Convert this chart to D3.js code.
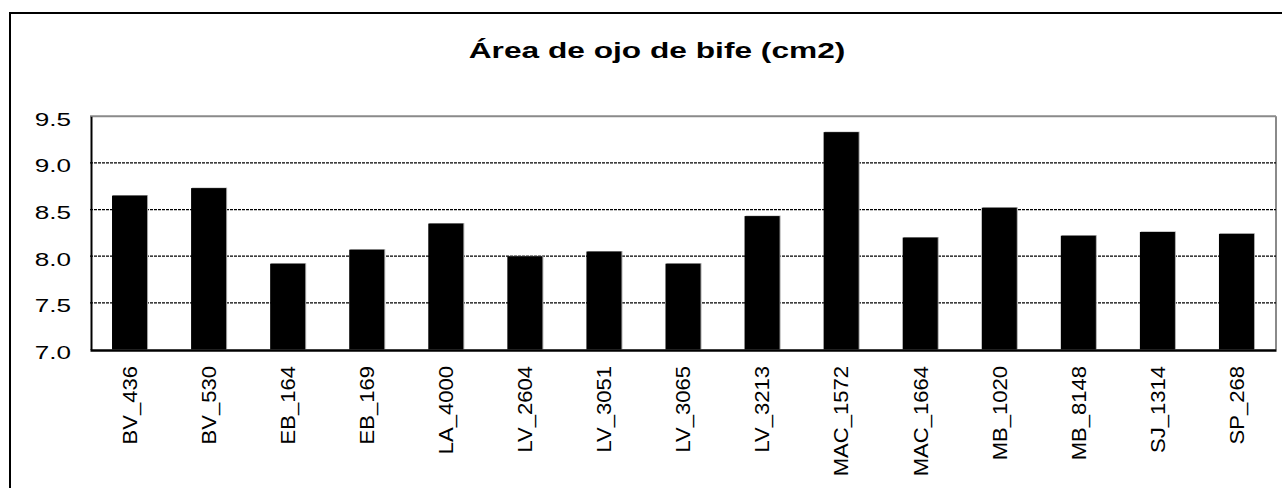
<!DOCTYPE html>
<html>
<head>
<meta charset="utf-8">
<script src="https://cdn.jsdelivr.net/npm/d3@7/dist/d3.min.js"></script>
<style>
  html, body { margin: 0; padding: 0; background: #fff; }
  svg { display: block; font-family: "Liberation Sans", Arial, sans-serif; }
</style>
</head>
<body>
<svg id="chart" width="1282" height="488"></svg>
<script>
const titleText = "Área de ojo de bife (cm2)";
const categories = ["BV_436","BV_530","EB_164","EB_169","LA_4000","LV_2604","LV_3051","LV_3065","LV_3213","MAC_1572","MAC_1664","MB_1020","MB_8148","SJ_1314","SP_268"];
const values = [8.65, 8.73, 7.92, 8.07, 8.35, 8.00, 8.05, 7.92, 8.43, 9.33, 8.20, 8.52, 8.22, 8.26, 8.24];
const yTicks = [7.0, 7.5, 8.0, 8.5, 9.0, 9.5];
const yDomain = [7.0, 9.5];

const svg = d3.select("#chart");
const W = 1282, H = 488;
const plot = { left: 90, right: 1276, top: 116.3, bottom: 349.5 };

// outer frame (extends past the visible area on right/bottom)
svg.append("rect")
  .attr("x", 10).attr("y", 13).attr("width", W + 20).attr("height", H + 20)
  .attr("fill", "#fff").attr("stroke", "#000").attr("stroke-width", 2);

const x = d3.scaleBand()
  .domain(categories)
  .range([plot.left, plot.right])
  .paddingInner(0.557)
  .paddingOuter(0.2785);

const y = d3.scaleLinear().domain(yDomain).range([plot.bottom, plot.top]);

// title
svg.append("text")
  .attr("transform", `translate(657,58) scale(1.44,1)`)
  .attr("text-anchor", "middle")
  .attr("font-size", 22)
  .attr("font-weight", "bold")
  .attr("fill", "#000")
  .text(titleText);

// plot frame top/right (gray)
svg.append("line")
  .attr("x1", plot.left).attr("x2", plot.right)
  .attr("y1", y(9.5)).attr("y2", y(9.5))
  .attr("stroke", "#8a8a8a").attr("stroke-width", 2);
svg.append("line")
  .attr("x1", plot.right).attr("x2", plot.right)
  .attr("y1", y(9.5)).attr("y2", plot.bottom)
  .attr("stroke", "#8a8a8a").attr("stroke-width", 2);

// gridlines
svg.append("g")
  .selectAll("line")
  .data(yTicks.filter(t => t > yDomain[0] && t < yDomain[1]))
  .join("line")
  .attr("x1", plot.left).attr("x2", plot.right)
  .attr("y1", d => y(d)).attr("y2", d => y(d))
  .attr("stroke", "#000").attr("stroke-width", 1.2)
  .attr("stroke-dasharray", "3,1");

// bars shadow
svg.append("g")
  .selectAll("rect")
  .data(values)
  .join("rect")
  .attr("x", (d, i) => x(categories[i]) + 1)
  .attr("y", d => y(d) - 0.5)
  .attr("width", x.bandwidth())
  .attr("height", d => y(yDomain[0]) - y(d))
  .attr("fill", "#a8a8a8");

// bars
svg.append("g")
  .selectAll("rect")
  .data(values)
  .join("rect")
  .attr("x", (d, i) => x(categories[i]))
  .attr("y", d => y(d))
  .attr("width", x.bandwidth())
  .attr("height", d => y(yDomain[0]) - y(d))
  .attr("fill", "#000");

// y axis
const yAxis = svg.append("g")
  .attr("transform", `translate(${plot.left + 1},0)`)
  .call(d3.axisLeft(y).tickValues(yTicks).tickSize(0).tickFormat(""));
yAxis.select(".domain").attr("stroke", "#000").attr("stroke-width", 2);

svg.append("g")
  .selectAll("text")
  .data(yTicks)
  .join("text")
  .attr("transform", d => `translate(71,${y(d) + 9.5}) scale(1.45,1)`)
  .attr("text-anchor", "end")
  .attr("font-size", 18)
  .attr("fill", "#000")
  .text(d => d3.format(".1f")(d));

// x axis
const xAxis = svg.append("g")
  .attr("transform", `translate(0,${plot.bottom + 0.5})`)
  .call(d3.axisBottom(x).tickSize(0).tickFormat(""));
xAxis.select(".domain").attr("stroke", "#000").attr("stroke-width", 2.5);

svg.append("g")
  .selectAll("text")
  .data(categories)
  .join("text")
  .attr("transform", d => `translate(${x(d) + x.bandwidth() / 2},366) rotate(-90) scale(1.05,1)`)
  .attr("text-anchor", "end")
  .attr("dy", "0.35em")
  .attr("font-size", 21)
  .attr("fill", "#000")
  .text(d => d);
</script>
</body>
</html>
